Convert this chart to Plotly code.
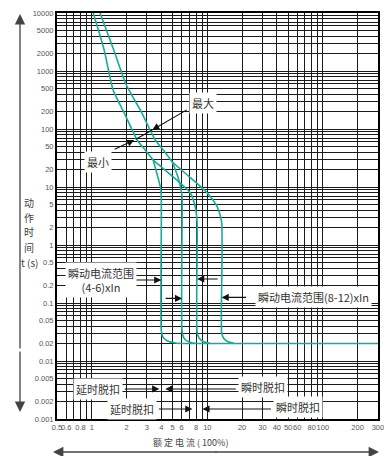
import math
import plotly.graph_objects as go

# ---------------- data ----------------
x_tick_vals = [0.5, 0.6, 0.7, 0.8, 0.9, 1, 2, 3, 4, 5, 6, 7, 8, 9,
               10, 20, 30, 40, 50, 60, 70, 80, 90, 100, 200, 300]
x_tick_text = ["0.5", "0.6", "", "0.8", "", "1", "2", "3", "4", "5", "6", "", "8", "",
               "10", "20", "30", "40", "50", "60", "", "80", "", "100", "200", "300"]

y_tick_vals = []
y_tick_text = []
for d in range(-3, 4):
    for m in range(1, 10):
        v = m * 10.0 ** d
        y_tick_vals.append(v)
        y_tick_text.append(("%g" % v) if m in (1, 2, 5) else "")
y_tick_vals.append(10000)
y_tick_text.append("10000")

y_title_parts = ["动", "作", "时", "间", "t (s)"]

# thermal (delay) curves
min_thermal_I = [1.03, 1.28, 1.53, 1.95, 2.47, 2.90, 3.40]
min_thermal_t = [10000, 2300, 470, 174, 64.6, 43.4, 29.2]
max_thermal_I = [1.18, 1.55, 1.99, 2.63, 3.55, 4.16, 4.98]
max_thermal_t = [10000, 2300, 574, 213, 64.6, 43.4, 27.0]

# instantaneous branches
A_I = [3.40, 3.69, 3.97, 4.0, 4.0, 4.12, 4.45, 5.3, 6.6]
A_t = [29.2, 16.1, 8.87, 3.0, 0.0330, 0.0260, 0.0226, 0.0205, 0.0200]
B_I = [4.98, 5.61, 6.03, 6.05, 6.05, 6.25, 6.75, 7.9]
B_t = [27.0, 14.3, 7.3, 3.0, 0.0320, 0.0252, 0.0218, 0.0200]
C_I = [3.40, 5.08, 7.14, 7.89, 8.16, 8.16, 8.49, 9.2, 10.6]
C_t = [29.2, 14.9, 7.88, 4.35, 2.5, 0.0316, 0.0249, 0.0217, 0.0200]
D_I = [4.98, 6.71, 10.0, 12.2, 13.3, 13.3, 13.8, 14.96, 17.2]
D_t = [27.0, 16.1, 7.88, 4.52, 2.5, 0.0316, 0.0249, 0.0217, 0.0200]
inst_I = [6.6, 300]
inst_t = [0.02, 0.02]

TEAL = "rgb(24,172,152)"
GRID = "#1a1a1a"
TXT = "#333333"
CJK = "Noto Sans CJK SC"

fig = go.Figure()
spl = dict(color=TEAL, width=1.6, shape="spline", smoothing=0.6)
for xs, ys in [(min_thermal_I, min_thermal_t), (max_thermal_I, max_thermal_t),
               (A_I, A_t), (B_I, B_t), (C_I, C_t), (D_I, D_t)]:
    fig.add_trace(go.Scatter(x=xs, y=ys, mode="lines", line=spl, hoverinfo="skip"))
fig.add_trace(go.Scatter(x=inst_I, y=inst_t, mode="lines",
                         line=dict(color=TEAL, width=1.6), hoverinfo="skip"))


def L(v):
    return math.log10(v)


ann = []


def box(text, I, t, size=11):
    ann.append(dict(text=text, x=L(I), y=L(t), xref="x", yref="y", showarrow=False,
                    xanchor="center", yanchor="middle",
                    bgcolor="white", font=dict(family=CJK, size=size, color=TXT),
                    borderpad=2))


def arrow(I, t, ax, ay, head=2):
    ann.append(dict(text="", x=L(I), y=L(t), xref="x", yref="y", showarrow=True,
                    ax=ax, ay=ay, arrowhead=head, arrowsize=1.3, arrowwidth=1.1,
                    arrowcolor="#111"))


# 最大 / 最小 pointers (one line with two inward heads)
arrow(2.33, 64.6, -21, 10)
arrow(3.34, 96.2, 36, -21)
arrow(3.34, 96.2, -18, 10, head=0)
box("最大", 9.25, 281)
box("最小", 1.135, 27)

# instantaneous range pointers
arrow(4.0, 0.249, -28, 0)
arrow(6.05, 0.12, -18, 0)
arrow(8.16, 0.26, 22, 0)
arrow(13.3, 0.125, 26, 0)
box("瞬动电流范围<br>(4-6)xIn", 1.2, 0.249)
box("瞬动电流范围(8-12)xIn", 83.4, 0.127)

# delay / instantaneous trip pointers
arrow(3.84, 0.0033, -36, 0)
arrow(4.33, 0.0033, 72, 0)
arrow(7.43, 0.00149, -35, 0)
arrow(9.07, 0.00149, 70, 0)
box("延时脱扣", 1.135, 0.00329)
box("延时脱扣", 2.24, 0.00149)
box("瞬时脱扣", 30.1, 0.00357)
box("瞬时脱扣", 60.5, 0.0016)

# outer axis arrows (paper coords)
PW, PH = 321.0, 406.0
def px(xp):
    return (xp - 57) / PW
def py(yp):
    return (419 - yp) / PH

for tip_y, tail_off in [(14, 336), (412, -62)]:
    ann.append(dict(text="", x=px(20), y=py(tip_y), xref="paper", yref="paper",
                    showarrow=True, ax=0, ay=tail_off, arrowhead=2, arrowsize=1.6,
                    arrowwidth=1.3, arrowcolor="#444"))
for tip_x, tail_off in [(53, 165), (379, -165)]:
    ann.append(dict(text="", x=px(tip_x), y=py(452), xref="paper", yref="paper",
                    showarrow=True, ax=tail_off, ay=0, arrowhead=2, arrowsize=1.6,
                    arrowwidth=1.3, arrowcolor="#444"))

for i, part in enumerate(y_title_parts):
    ann.append(dict(text=part, x=px(29), y=py(202 + 15 * i), xref="paper", yref="paper",
                    showarrow=False, xanchor="center", yanchor="middle",
                    font=dict(family=CJK, size=10, color="#444")))
ann.append(dict(text="额 定 电 流 ( 100%)", x=px(190), y=py(442), xref="paper",
                yref="paper", showarrow=False, xanchor="center", yanchor="middle",
                font=dict(family=CJK, size=9, color="#444")))

tickfont = dict(family="Liberation Sans", size=7.5, color="#555")
fig.update_layout(
    width=384, height=456,
    margin=dict(l=57, r=6, t=13, b=37, autoexpand=False),
    paper_bgcolor="white", plot_bgcolor="white",
    showlegend=False,
    annotations=ann,
    xaxis=dict(type="log", range=[L(0.5), L(300) + 0.0005], tickvals=x_tick_vals,
               ticktext=x_tick_text, ticklabeloverflow="allow",
               showgrid=True, gridcolor=GRID, gridwidth=1.2, showline=True, mirror=True,
               linecolor="black", linewidth=2, ticks="", zeroline=False, tickangle=0,
               automargin=False, tickfont=tickfont),
    yaxis=dict(type="log", range=[-3, 4.0005], tickvals=y_tick_vals, ticktext=y_tick_text,
               ticklabeloverflow="allow",
               showgrid=True, gridcolor=GRID, gridwidth=1.2, showline=True, mirror=True,
               linecolor="black", linewidth=2, ticks="", zeroline=False, tickangle=0,
               automargin=False, tickfont=tickfont),
)

fig.write_html("out.html", config={"displayModeBar": False},
               post_script="document.body.style.margin='0';")
